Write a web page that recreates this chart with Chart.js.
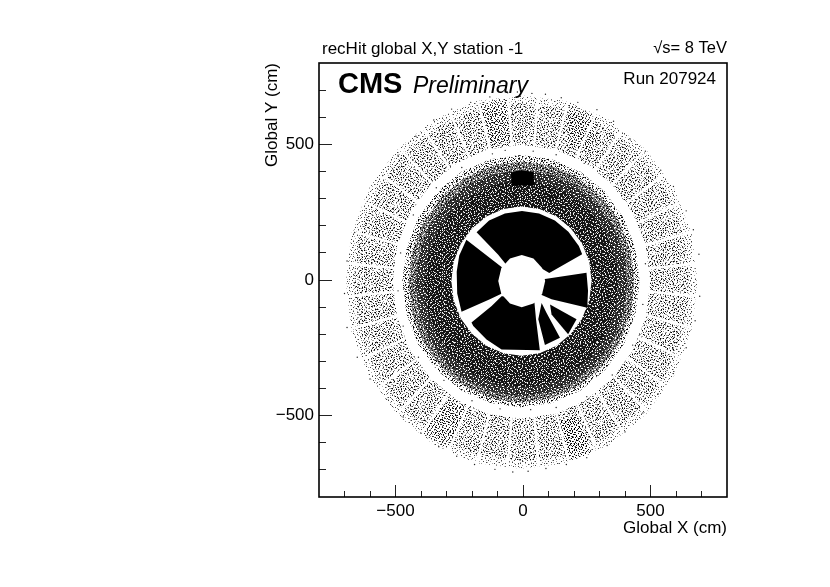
<!DOCTYPE html>
<html>
<head>
<meta charset="utf-8">
<title>recHit global X,Y station -1</title>
<script src="https://cdn.jsdelivr.net/npm/chart.js@4"></script>
<style>
html, body { margin: 0; background: #fff; }
canvas { display: block; }
</style>
</head>
<body>
<canvas id="rechits" width="830" height="587"></canvas>
<script>
// axis ticks
const majorTicks = [-500, 0, 500];
const minorTicks = [-700, -600, -400, -300, -200, -100, 100, 200, 300, 400, 600, 700];

// outlines, in cm
const outerX = [684, 661, 592, 482, 339, 173, -6, -185, -351, -494, -604, -673, -694, -673, -604, -494, -351, -185, -6, 173, 339, 482, 592, 661];
const outerY = [-8, 171, 337, 480, 590, 659, 680, 659, 590, 480, 337, 171, -8, -187, -353, -496, -606, -675, -696, -675, -606, -496, -353, -187];
const coreX = [654, 632, 566, 461, 324, 165, -6, -177, -336, -473, -578, -644, -666, -644, -578, -473, -336, -177, -6, 165, 324, 461, 566, 632];
const coreY = [-8, 163, 322, 459, 564, 630, 652, 630, 564, 459, 322, 163, -8, -179, -338, -475, -580, -646, -668, -646, -580, -475, -338, -179];
const gapOuterX = [499, 482, 431, 351, 247, 125, -6, -137, -259, -363, -443, -494, -511, -494, -443, -363, -259, -137, -6, 125, 247, 351, 431, 482];
const gapOuterY = [-6, 125, 247, 351, 431, 482, 499, 482, 431, 351, 247, 125, -6, -137, -259, -363, -443, -494, -511, -494, -443, -363, -259, -137];
const ring1X = [457, 441, 395, 321, 225, 112, -8, -128, -241, -337, -411, -457, -473, -457, -411, -337, -241, -128, -8, 112, 225, 321, 395, 441];
const ring1Y = [-4, 116, 229, 325, 399, 445, 461, 445, 399, 325, 229, 116, -4, -124, -237, -333, -407, -453, -469, -453, -407, -333, -237, -124];
const ring2X = [436, 421, 377, 307, 215, 108, -6, -120, -227, -319, -389, -433, -448, -433, -389, -319, -227, -120, -6, 108, 215, 307, 377, 421];
const ring2Y = [-6, 108, 215, 307, 377, 421, 436, 421, 377, 307, 215, 108, -6, -124, -231, -323, -393, -437, -452, -437, -393, -323, -231, -124];
const ring3X = [409, 395, 354, 288, 202, 102, -6, -114, -214, -300, -366, -407, -421, -407, -366, -300, -214, -114, -6, 102, 202, 288, 354, 395];
const ring3Y = [-10, 98, 198, 284, 350, 391, 405, 391, 350, 284, 198, 98, -10, -122, -222, -308, -374, -415, -429, -415, -374, -308, -222, -122];
const ring4X = [374, 361, 324, 263, 184, 92, -6, -104, -196, -275, -336, -373, -386, -373, -336, -275, -196, -104, -6, 92, 184, 263, 324, 361];
const ring4Y = [-12, 86, 178, 257, 318, 355, 368, 355, 318, 257, 178, 86, -12, -114, -206, -285, -346, -383, -396, -383, -346, -285, -206, -114];
const whiteRingX = [269, 260, 232, 188, 132, 65, -6, -77, -144, -200, -244, -272, -281, -272, -244, -200, -144, -77, -6, 65, 132, 188, 232, 260];
const whiteRingY = [-4, 67, 134, 190, 234, 262, 271, 262, 234, 190, 134, 67, -4, -75, -142, -198, -242, -270, -279, -270, -242, -198, -142, -75];

// gaps between the outer chambers, pairs of end points, NaN breaks the line
const spokeX = [717, -717, NaN, 695, -695, NaN, 653, -653, NaN, 590, -590, NaN, 509, -509, NaN, 413, -413, NaN, 304, -304, NaN, 186, -186, NaN, 63, -63, NaN, -63, 63, NaN, -186, 186, NaN, -304, 304, NaN, -413, 413, NaN, -509, 509, NaN, -590, 590, NaN, -653, 653, NaN, -695, 695, NaN, -717, 717];
const spokeY = [63, -63, NaN, 186, -186, NaN, 304, -304, NaN, 413, -413, NaN, 509, -509, NaN, 590, -590, NaN, 653, -653, NaN, 695, -695, NaN, 717, -717, NaN, 717, -717, NaN, 695, -695, NaN, 653, -653, NaN, 590, -590, NaN, 509, -509, NaN, 413, -413, NaN, 304, -304, NaN, 186, -186, NaN, 63, -63];

// busier chambers
const busyAX = [131, 213, 270, 170]; const busyAY = [-520, -500, -640, -665];
const busyBX = [-44, -131, -170, -60]; const busyBY = [520, 500, 650, 670];
const busyCX = [175, 265, 292, 179]; const busyCY = [500, 470, 600, 650];
const busyDX = [-290, -213, -292, -396]; const busyDY = [-440, -480, -625, -565];

// hot spot above the inner disk
const blobX = [-47, -10, 40, 45, -45];
const blobY = [395, 405, 398, 350, 347];

// black sectors of the inner disk
const sectorAX = [-182, -133, -71, -4, 63, 125, 178, 219, 232, 103, 60, 0, -60, -98];
const sectorAY = [176, 219, 245, 254, 245, 219, 178, 125, 95, 26, 50, 50, 50, 94];
const sectorBX = [-222, -112, -60, -60, -130, -241, -258, -260, -250];
const sectorBY = [148, 68, 30, -40, -71, -117, -50, 30, 90];
const sectorCX = [-202, -123, -84, -45, 30, 45, 51, 66, -84, -143, -195];
const sectorCY = [-157, -96, -60, -60, -60, -85, -145, -259, -256, -219, -170];
const sectorDX = [73, 92, 145, 86, 60];
const sectorDY = [-85, -121, -213, -240, -145];
const sectorEX = [106, 210, 177, 112];
const sectorEY = [-90, -145, -200, -127];
const sectorFX = [138, 249, 255, 252, 112, 60, 60];
const sectorFY = [11, 27, -40, -102, -71, -50, 0];
const holeX = [87, 75, 41, -5, -51, -85, -97, -85, -51, -5, 41, 75];
const holeY = [-4, 44, 79, 92, 79, 44, -4, -52, -87, -100, -87, -52];

// single hits outside the filled areas
const hitX = [-60, -22, 35, 88, 150, 215, 290, 355, 420, 480, 540, 590, 640, 668, 690, 693, 675, 640, 590, 530, 470, 400, 330, 250, 170, 90, 20, -40, -110, -190, -260, -330, -400, -470, -535, -600, -650, -690, -700, -690, -660, -610, -550, -490, -420, -350, -280, -205, -130,
  -70, 40, 130, 240, 340, 420, 465, 480, 470, 430, 350, 250, 130, 30, -90, -200, -310, -410, -470, -490, -480, -430, -340, -240, -120];
const hitY = [690, 693, 688, 685, 672, 655, 628, 585, 520, 475, 405, 345, 255, 185, 95, -60, -150, -250, -345, -420, -490, -560, -610, -655, -680, -695, -705, -708, -698, -680, -650, -615, -565, -505, -440, -365, -285, -175, -50, 70, 175, 290, 385, 460, 530, 590, 630, 655, 675,
  478, 475, 462, 430, 375, 300, 200, 60, -90, -240, -350, -430, -470, -478, -475, -445, -370, -285, -170, -40, 100, 240, 340, 415, 465];

const toPoints = (xs, ys) => xs.map((x, i) => ({ x: x, y: ys[i] }));

// small stipple tiles, the different periods keep them from lining up
const tile13 = ['.....#.......', '#..........#.', '........#....', '..#..........', '......#....#.', '.#...........', '.........#...', '....#........', '#.........#..', '.......#.....', '..#..........'];
const tile17 = ['..#.........#....', '.......#.........', '#..............#.', '.....#...#.......', '............#....', '..#..............', '.........#.....#.', '....#............', '#.........#......', '.......#......#..', '..#..............', '..........#......', '.....#.........#.', '#................', '........#..#.....', '...#.............', '..............#..', '......#..........', '..#.......#......'];
const tile11 = ['...#.......', '........#..', '.#.........', '.....#.....', '.........#.', '..#........', '......#....'];
const tile7 = ['..#....', '.....#.', '.#.....', '....#..', '#......'];

function stipple(rows, colour) {
  const c = document.createElement('canvas');
  c.width = rows[0].length;
  c.height = rows.length;
  const g = c.getContext('2d');
  g.fillStyle = colour;
  rows.forEach((row, y) => {
    for (let x = 0; x < row.length; x++) {
      if (row[x] === '#') g.fillRect(x, y, 1, 1);
    }
  });
  return g.createPattern(c, 'repeat');
}

function area(xs, ys, fillStyle) {
  return {
    data: toPoints(xs, ys),
    showLine: true,
    fill: 'shape',
    backgroundColor: fillStyle,
    borderWidth: 0,
    pointRadius: 0
  };
}

// listed bottom layer first
const layers = [
  area(outerX, outerY, stipple(tile13, '#444')),
  area(outerX, outerY, stipple(tile11, '#aaa')),
  area(coreX, coreY, stipple(tile13, '#000')),
  area(coreX, coreY, stipple(tile17, '#444')),
  area(coreX, coreY, stipple(tile7, '#999')),
  area(busyAX, busyAY, stipple(tile7, '#000')),
  area(busyBX, busyBY, stipple(tile7, '#222')),
  area(busyCX, busyCY, stipple(tile7, '#222')),
  area(busyDX, busyDY, stipple(tile7, '#222')),
  {
    data: toPoints(spokeX, spokeY),
    showLine: true,
    borderColor: '#fff',
    borderWidth: 2.5,
    pointRadius: 0,
    spanGaps: false
  },
  area(gapOuterX, gapOuterY, '#fff'),
  area(ring1X, ring1Y, stipple(tile13, '#000')),
  area(ring1X, ring1Y, stipple(tile17, '#000')),
  area(ring1X, ring1Y, stipple(tile11, '#555')),
  area(ring1X, ring1Y, stipple(tile7, '#888')),
  area(ring2X, ring2Y, '#777'),
  area(ring2X, ring2Y, stipple(tile7, '#000')),
  area(ring2X, ring2Y, stipple(tile11, '#000')),
  area(ring2X, ring2Y, stipple(tile13, '#fff')),
  area(ring2X, ring2Y, stipple(tile17, '#fff')),
  area(ring3X, ring3Y, '#333'),
  area(ring3X, ring3Y, stipple(tile13, '#000')),
  area(ring3X, ring3Y, stipple(tile17, '#fff')),
  area(ring3X, ring3Y, stipple(tile11, '#fff')),
  area(ring4X, ring4Y, '#151515'),
  area(ring4X, ring4Y, stipple(tile17, '#fff')),
  area(ring4X, ring4Y, stipple(tile13, '#ddd')),
  area(ring4X, ring4Y, stipple(tile11, '#999')),
  area(blobX, blobY, '#000'),
  area(whiteRingX, whiteRingY, '#fff'),
  area(sectorAX, sectorAY, '#000'),
  area(sectorBX, sectorBY, '#000'),
  area(sectorCX, sectorCY, '#000'),
  area(sectorDX, sectorDY, '#000'),
  area(sectorEX, sectorEY, '#000'),
  area(sectorFX, sectorFY, '#000'),
  area(holeX, holeY, '#fff'),
  {
    data: toPoints(hitX, hitY),
    showLine: false,
    backgroundColor: '#222',
    borderWidth: 0,
    pointRadius: 0.7
  }
];

const axisFont = { family: '"Liberation Sans"', size: 17 };
const minusLabel = v => (v < 0 ? '\u2212' + Math.abs(v) : String(v));

const framePlugin = {
  id: 'frame',
  afterDraw(chart) {
    const a = chart.chartArea;
    const c = chart.ctx;
    c.save();
    c.strokeStyle = '#000';
    c.lineWidth = 1.6;
    c.strokeRect(a.left, a.top, a.right - a.left, a.bottom - a.top);

    c.fillStyle = '#000';
    c.font = '17px "Liberation Sans"';
    c.textAlign = 'left';
    c.fillText('recHit global X,Y station -1', 322, 54);
    c.textAlign = 'right';
    c.fillText('Run 207924', 716, 84);
    c.font = '16.5px "Liberation Sans"';
    c.fillText('\u221As= 8 TeV', 727, 53);
    c.textAlign = 'left';
    c.font = 'bold 29px "Liberation Sans"';
    c.fillText('CMS', 338, 93);
    c.font = 'italic 23px "Liberation Sans"';
    c.fillText('Preliminary', 413, 93);
    c.restore();
  }
};

new Chart(document.getElementById('rechits').getContext('2d'), {
  type: 'scatter',
  data: { datasets: layers.slice().reverse() },
  plugins: [framePlugin],
  options: {
    responsive: false,
    animation: false,
    events: [],
    layout: { padding: { left: 262, right: 103, top: 63, bottom: 47 } },
    plugins: { legend: { display: false }, title: { display: false }, tooltip: { enabled: false } },
    scales: {
      x: {
        min: -800,
        max: 800,
        border: { display: false },
        grid: { drawOnChartArea: false, tickLength: -12, tickColor: '#222', tickWidth: 1 },
        afterBuildTicks: s => { s.ticks = majorTicks.map(v => ({ value: v })); },
        afterFit: s => { s.height = 43; },
        ticks: { font: axisFont, color: '#000', padding: 16, maxRotation: 0, autoSkip: false, callback: minusLabel },
        title: { display: true, text: 'Global X (cm)', align: 'end', font: axisFont, color: '#000', padding: { top: 0, bottom: 1 } }
      },
      y: {
        min: -800,
        max: 800,
        border: { display: false },
        grid: { drawOnChartArea: false, tickLength: -13, tickColor: '#222', tickWidth: 1 },
        afterBuildTicks: s => { s.ticks = majorTicks.map(v => ({ value: v })); },
        afterFit: s => { s.width = 57; },
        ticks: { font: axisFont, color: '#000', padding: 18, autoSkip: false, callback: minusLabel },
        title: { display: true, text: 'Global Y (cm)', align: 'end', font: axisFont, color: '#000', padding: { top: 0, bottom: 0 } }
      },
      x2: {
        axis: 'x',
        position: { y: -800 },
        min: -800,
        max: 800,
        border: { display: false },
        grid: { drawOnChartArea: false, tickLength: -6, tickColor: '#222', tickWidth: 1 },
        afterBuildTicks: s => { s.ticks = minorTicks.map(v => ({ value: v })); },
        ticks: { display: false }
      },
      y2: {
        axis: 'y',
        position: { x: -800 },
        min: -800,
        max: 800,
        border: { display: false },
        grid: { drawOnChartArea: false, tickLength: -7, tickColor: '#222', tickWidth: 1 },
        afterBuildTicks: s => { s.ticks = minorTicks.map(v => ({ value: v })); },
        ticks: { display: false }
      }
    }
  }
});
</script>
</body>
</html>
